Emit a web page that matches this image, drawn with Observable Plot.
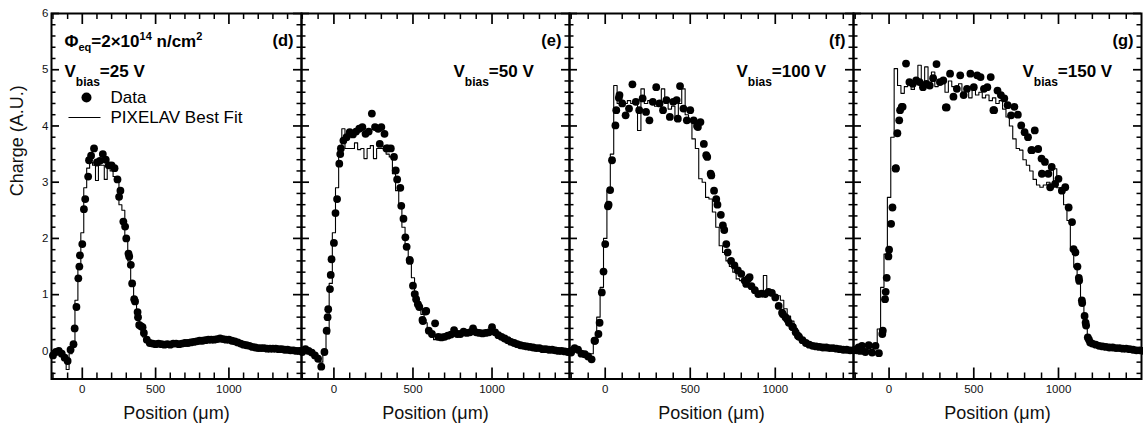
<!DOCTYPE html>
<html><head><meta charset="utf-8">
<script src="https://cdn.jsdelivr.net/npm/d3@7"></script>
<script src="https://cdn.jsdelivr.net/npm/@observablehq/plot@0.6"></script>
<style>
html,body{margin:0;padding:0;background:#fff;}
#chart{position:relative;width:1143px;height:432px;overflow:hidden;background:#fff;}
#chart svg{position:absolute;top:0;}
</style></head><body><div id="chart"></div>
<script>
// positions along the track (µm)
const positions = [-200,-180,-160,-140,-120,-100,-80,-60,-40,-20,
  0,20,40,60,80,100,120,140,160,180,
  200,220,240,260,280,300,320,340,360,380,
  400,420,440,460,480,500,520,540,560,580,
  600,620,640,660,680,700,720,740,760,780,
  800,820,840,860,880,900,920,940,960,980,
  1000,1020,1040,1060,1080,1100,1120,1140,1160,1180,
  1200,1220,1240,1260,1280,1300,1320,1340,1360,1380,
  1400,1420,1440,1460,1480,1500];

// (d) Vbias = 25 V
const dataD = [-0.08,-0.02,0.0,-0.05,-0.12,-0.18,0.02,0.12,0.78,1.5,
  1.9,2.7,3.1,3.47,3.6,3.35,3.38,3.5,3.4,3.3,
  3.3,3.25,3.05,2.85,2.3,2.0,1.68,1.2,0.88,0.6,
  0.44,0.32,0.2,0.14,0.13,0.12,0.13,0.12,0.11,0.12,
  0.11,0.13,0.13,0.12,0.13,0.14,0.14,0.15,0.16,0.17,
  0.18,0.18,0.19,0.2,0.2,0.2,0.21,0.22,0.21,0.2,
  0.2,0.18,0.17,0.15,0.13,0.11,0.1,0.09,0.07,0.06,
  0.05,0.05,0.05,0.04,0.04,0.04,0.04,0.03,0.03,0.02,
  0.02,0.01,0.01,0.0,0.0,-0.02];
const extraXD = [-52,-27,-16,11,46,251,292,315,331,354,377,388,411];
const extraVD = [0.4,1.29,1.7,2.52,3.39,2.74,2.21,1.73,1.53,0.92,0.69,0.46,0.42];
const fitD = [-0.05,0.0,0.0,-0.08,-0.1,-0.33,-0.05,0.1,0.9,1.5,
  2.1,2.9,3.25,3.35,3.3,3.03,3.3,3.3,3.05,3.3,
  3.2,3.1,3.0,2.6,2.5,2.0,1.6,1.2,0.9,0.6,
  0.45,0.25,0.15,0.12,0.12,0.12,0.12,0.12,0.12,0.12,
  0.12,0.12,0.12,0.13,0.13,0.14,0.14,0.15,0.16,0.17,
  0.18,0.18,0.19,0.19,0.2,0.2,0.21,0.21,0.21,0.2,
  0.19,0.18,0.16,0.15,0.13,0.11,0.1,0.09,0.07,0.06,
  0.05,0.05,0.05,0.04,0.04,0.04,0.04,0.03,0.03,0.02,
  0.02,0.01,0.01,0.0,0.0,-0.01];

// (e) Vbias = 50 V
const dataE = [0.0,0.03,0.0,-0.03,-0.08,-0.14,-0.28,-0.02,0.6,1.35,
  1.92,2.7,3.5,3.74,3.8,3.89,3.85,3.9,3.95,3.98,
  3.86,3.9,4.22,3.98,3.95,3.98,3.86,3.6,3.6,3.45,
  3.05,2.9,2.35,1.85,1.6,1.16,0.92,0.78,0.55,0.7,
  0.36,0.3,0.49,0.25,0.24,0.25,0.27,0.29,0.37,0.3,
  0.3,0.34,0.32,0.33,0.4,0.33,0.32,0.31,0.32,0.33,
  0.42,0.33,0.28,0.25,0.22,0.19,0.16,0.14,0.12,0.1,
  0.09,0.08,0.07,0.06,0.05,0.05,0.03,0.03,0.02,0.02,
  0.01,0.0,0.0,-0.01,-0.02,-0.03];
const extraXE = [-46,-36,-25,-15,10,34,44,290,332,391,426,452,479,511,531,563,584];
const extraVE = [0.36,0.74,1.1,1.63,2.45,3.33,3.6,3.68,3.6,3.21,2.58,2.02,1.62,1.01,0.83,0.53,0.71];
const fitE = [0.0,0.0,-0.02,-0.05,-0.1,-0.15,-0.2,-0.05,0.3,1.2,
  2.1,2.9,3.6,3.95,3.6,3.6,3.6,3.7,3.58,3.6,
  3.42,3.6,3.65,3.42,3.6,3.6,3.6,3.5,3.45,3.15,
  2.85,2.6,2.2,1.9,1.6,1.3,1.05,0.85,0.65,0.5,
  0.35,0.25,0.2,0.2,0.22,0.24,0.26,0.27,0.29,0.3,
  0.31,0.31,0.32,0.32,0.32,0.32,0.32,0.32,0.32,0.32,
  0.32,0.3,0.28,0.25,0.22,0.19,0.16,0.14,0.12,0.1,
  0.09,0.08,0.07,0.06,0.05,0.05,0.04,0.03,0.02,0.02,
  0.01,0.0,0.0,-0.01,-0.02,-0.03];

// (f) Vbias = 100 V
const dataF = [0.0,0.05,0.02,-0.05,-0.06,-0.1,-0.15,0.18,0.3,1.04,
  1.9,2.6,3.39,4.01,4.5,4.4,4.19,4.31,4.74,4.43,
  4.28,4.49,4.25,4.1,4.43,4.69,4.4,4.28,4.46,4.16,
  4.43,4.46,4.71,4.31,4.1,4.28,4.1,4.0,4.07,3.68,
  3.45,3.15,2.85,2.6,2.42,2.15,1.75,1.6,1.52,1.43,
  1.37,1.25,1.28,1.15,1.08,1.01,1.02,1.01,1.05,1.03,
  0.95,0.8,0.68,0.6,0.5,0.43,0.33,0.25,0.19,0.14,
  0.11,0.09,0.08,0.07,0.06,0.06,0.05,0.05,0.04,0.03,
  0.02,0.02,0.01,0.01,0.01,0.0];
const extraXF = [-63,-33,-10,16,29,65,84,427,545,594,624,653,692,712,829,849,1045,1071,1104,1133];
const extraVF = [0.18,0.5,1.41,2.57,2.86,4.28,4.55,4.13,3.98,3.48,3.12,2.7,2.23,1.9,1.19,1.31,0.65,0.56,0.42,0.27];
const fitF = [0.0,0.02,0.0,-0.05,-0.1,-0.12,-0.05,0.15,0.6,1.13,
  2.0,2.85,3.5,4.72,4.4,4.45,4.4,4.45,4.4,4.45,
  3.92,4.66,4.4,4.45,4.4,4.35,4.45,4.66,4.4,4.3,
  4.35,4.1,4.4,4.66,4.2,4.1,3.77,3.6,3.06,3.0,
  2.73,2.7,2.47,2.2,1.87,1.75,1.6,1.5,1.4,1.28,
  1.25,1.2,1.15,1.1,1.08,1.05,1.02,1.34,1.02,1.0,
  1.0,0.98,0.9,0.75,0.62,0.53,0.4,0.3,0.2,0.14,
  0.1,0.09,0.08,0.07,0.06,0.06,0.05,0.05,0.04,0.03,
  0.02,0.02,0.01,0.01,0.01,0.0];

// (g) Vbias = 150 V
const dataG = [0.02,0.06,0.09,-0.02,0.1,-0.03,0.09,-0.04,0.3,1.05,
  1.8,2.55,3.25,4.1,4.34,5.11,4.78,4.75,4.81,4.78,
  4.69,4.75,4.72,4.85,5.1,4.78,4.81,4.33,4.93,4.52,
  4.66,4.9,4.55,4.66,4.93,4.69,4.9,4.87,4.66,4.69,
  4.87,4.28,4.63,4.55,4.49,4.37,4.19,4.34,4.2,4.01,
  3.89,3.8,3.57,3.92,3.59,3.42,3.36,3.15,3.27,2.97,
  3.06,2.85,2.91,2.55,2.29,1.75,1.3,0.85,0.5,0.2,
  0.13,0.11,0.09,0.08,0.07,0.06,0.06,0.05,0.05,0.04,
  0.04,0.03,0.02,0.01,0.01,0.0];
const extraXG = [-37,-24,-14,-4,12,39,49,65,75,335,616,843,902,951,1089,1112,1122,1138,1154,1163,1173,1187];
const extraVG = [0.36,0.92,1.3,1.68,2.26,3.24,3.87,4.28,4.34,4.33,4.28,3.57,3.15,2.91,1.81,1.5,1.25,0.9,0.62,0.45,0.24,0.15];
const fitG = [0.05,0.05,0.03,0.08,0.02,0.05,0.06,0.39,1.13,1.72,
  2.73,3.8,5.02,4.72,4.58,4.7,4.75,4.65,4.8,5.08,
  4.7,5.05,4.75,4.96,4.7,4.8,4.75,4.6,4.8,4.7,
  4.65,4.75,4.6,4.7,4.5,4.65,4.55,4.6,4.5,4.55,
  4.45,4.5,4.4,4.45,4.3,4.16,4.0,3.77,3.6,3.57,
  3.4,3.3,3.2,3.05,2.95,2.91,2.95,3.0,2.9,3.24,
  2.9,2.85,2.6,2.32,1.78,1.49,1.19,0.83,0.42,0.18,
  0.12,0.1,0.09,0.08,0.07,0.06,0.06,0.05,0.05,0.04,
  0.04,0.03,0.02,0.01,0.01,0.0];

const panelLabels = ["(d)","(e)","(f)","(g)"];
const biasLabels = ["Vbias=25 V","Vbias=50 V","Vbias=100 V","Vbias=150 V"];
const fluenceLabel = "Φeq=2×1014 n/cm2";
const legendLabels = ["Data","PIXELAV Best Fit"];
const xTitle = "Position (\u03BCm)";
const yTitle = "Charge (A.U.)";
const xMajor = [0,500,1000];
const xMinor = [-200,-100,100,200,300,400,600,700,800,900,1100,1200,1300,1400];
const yMajor = [0,1,2,3,4,5,6];
const yMinor = [-0.4,-0.2,0.2,0.4,0.6,0.8,1.2,1.4,1.6,1.8,2.2,2.4,2.6,2.8,3.2,3.4,3.6,3.8,4.2,4.4,4.6,4.8,5.2,5.4,5.6,5.8];
const yDomain = [-0.5, 6];

// rich-text pieces (sub/superscripts)
const rich = {
  "Φeq=2×1014 n/cm2": [["Φ"],["eq","sub",11,4],["=2×10"],["14","sup",11,-7],[" n/cm"],["2","sup",11,-7]],
  "Vbias=25 V": [["V"],["bias","sub",12,9],["=25 V"]],
  "Vbias=50 V": [["V"],["bias","sub",12,9],["=50 V"]],
  "Vbias=100 V": [["V"],["bias","sub",12,9],["=100 V"]],
  "Vbias=150 V": [["V"],["bias","sub",12,9],["=150 V"]]
};

const layout = [
  {left:51, right:301, domain:[-210,1495], data:dataD, fit:fitD, ex:extraXD, ev:extraVD, biasDx:13},
  {left:301, right:569, domain:[-205,1490], data:dataE, fit:fitE, ex:extraXE, ev:extraVE, biasDx:152},
  {left:569, right:853, domain:[-210,1460], data:dataF, fit:fitF, ex:extraXF, ev:extraVF, biasDx:167},
  {left:853, right:1141, domain:[-210,1490], data:dataG, fit:fitG, ex:extraXG, ev:extraVG, biasDx:169}
];

const H = 432, MT = 13, MB = 53.5, FH = H - MT - MB;
const font = "'Liberation Sans', Arial, Helvetica, sans-serif";
const lineSymbol = {draw(ctx){ ctx.moveTo(-16,0); ctx.lineTo(16,0); }};

function richify(svg){
  d3.select(svg).selectAll("text").each(function(){
    const parts = rich[this.textContent];
    if (!parts) return;
    const el = d3.select(this);
    el.text(null);
    let shift = 0;
    for (const [s, kind, size, off] of parts) {
      const target = kind ? off : 0;
      const ts = el.append("tspan").text(s);
      if (target - shift !== 0) ts.attr("dy", target - shift);
      if (kind) ts.attr("font-size", size);
      shift = target;
    }
  });
}

const chart = document.getElementById("chart");
layout.forEach((p, i) => {
  const ml = i === 0 ? 51 : 4, mr = 4;
  const fw = p.right - p.left;
  const width = fw + ml + mr;
  const rows = positions.map((x, k) => ({x, v: p.data[k]}))
    .concat(p.ex.map((x, k) => ({x, v: p.ev[k]})));
  const fitRows = positions.map((x, k) => ({x, v: p.fit[k]}));
  const marks = [
    Plot.line(fitRows, {x:"x", y:"v", curve:"step", stroke:"black", strokeWidth:1.1}),
    Plot.dot(rows, {x:"x", y:"v", r:3.9, fill:"black", stroke:null}),
    // inward ticks on all four sides (pixel lengths via insets)
    Plot.ruleX(xMajor, {insetTop: FH - 11, strokeWidth:1.7}),
    Plot.ruleX(xMinor, {insetTop: FH - 6, strokeWidth:1.5}),
    Plot.ruleX(xMajor, {insetBottom: FH - 11, strokeWidth:1.7}),
    Plot.ruleX(xMinor, {insetBottom: FH - 6, strokeWidth:1.5}),
    Plot.ruleY(yMajor, {insetRight: fw - 8, strokeWidth:1.7}),
    Plot.ruleY(yMinor, {insetRight: fw - 4.5, strokeWidth:1.5}),
    Plot.ruleY(yMajor, {insetLeft: fw - 8, strokeWidth:1.7}),
    Plot.ruleY(yMinor, {insetLeft: fw - 4.5, strokeWidth:1.5}),
    Plot.frame({stroke:"black", strokeWidth:2}),
    Plot.text(xMajor, {x:d=>d, text:d=>String(d), frameAnchor:"bottom", dy:14, fontSize:11.5, fill:"#111"}),
    Plot.text([xTitle], {text:d=>d, frameAnchor:"bottom", dy:40, fontSize:18, fill:"#111"}),
    Plot.text([panelLabels[i]], {text:d=>d, frameAnchor:"top-right", dx:-8, dy:32, textAnchor:"end", lineAnchor:"bottom", fontSize:16.5, fontWeight:"bold"}),
    Plot.text([biasLabels[i]], {text:d=>d, frameAnchor:"top-left", dx:p.biasDx, dy:63, textAnchor:"start", lineAnchor:"bottom", fontSize:17, fontWeight:"bold"})
  ];
  if (i === 0) {
    marks.push(
      Plot.text(yMajor, {y:d=>d, text:d=>String(d), frameAnchor:"left", dx:-3, textAnchor:"end", fontSize:11.5, fill:"#111"}),
      Plot.text([yTitle], {text:d=>d, frameAnchor:"left", dx:-34, rotate:-90, fontSize:18, fill:"#111"}),
      Plot.text([fluenceLabel], {text:d=>d, frameAnchor:"top-left", dx:13, dy:33, textAnchor:"start", lineAnchor:"bottom", fontSize:17, fontWeight:"bold"}),
      Plot.dot([legendLabels[0]], {frameAnchor:"top-left", dx:35, dy:84, r:5, fill:"black", stroke:null}),
      Plot.text([legendLabels[0]], {text:d=>d, frameAnchor:"top-left", dx:59, dy:89, textAnchor:"start", lineAnchor:"bottom", fontSize:17}),
      Plot.dot([legendLabels[1]], {frameAnchor:"top-left", dx:33, dy:104, symbol:lineSymbol, stroke:"black", strokeWidth:1.2, fill:"none", r:5}),
      Plot.text([legendLabels[1]], {text:d=>d, frameAnchor:"top-left", dx:59, dy:109, textAnchor:"start", lineAnchor:"bottom", fontSize:17})
    );
  }
  const svg = Plot.plot({
    width, height:H, marginLeft:ml, marginRight:mr, marginTop:MT, marginBottom:MB,
    x:{domain:p.domain, axis:null},
    y:{domain:yDomain, axis:null},
    style:{background:"transparent", overflow:"visible", fontFamily:font},
    marks
  });
  richify(svg);
  svg.style.left = (p.left - ml) + "px";
  chart.appendChild(svg);
});
</script></body></html>
